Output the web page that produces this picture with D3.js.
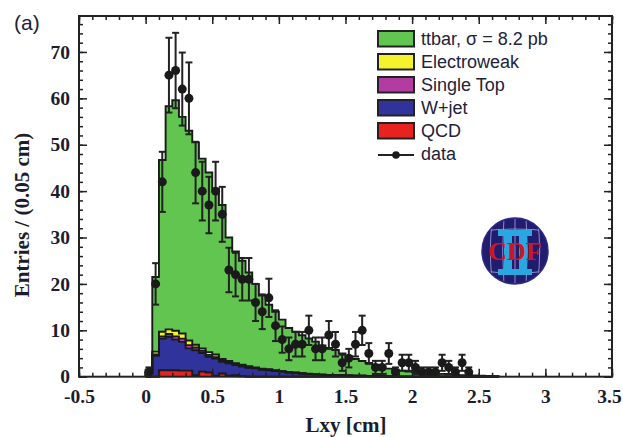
<!DOCTYPE html>
<html lang="en">
<head>
<meta charset="utf-8">
<title>Lxy distribution</title>
<script src="https://d3js.org/d3.v7.min.js"></script>
<style>
  body { margin: 0; background: #fff; }
  svg { display: block; }
  .tick text { font-family: "Liberation Serif", "DejaVu Serif", serif; font-weight: bold; font-size: 19.5px; fill: #1c1c2c; }
</style>
</head>
<body>
<svg id="chart" width="623" height="437"></svg>
<script>
// histogram bins: 0.05 cm wide, first bin starts at Lxy = 0
const binWidth = 0.05;
const binStart = 0.0;

// stacked MC components per bin (entries)
const qcd   = [0, 0, 1.4, 1.4, 1.4, 1.3, 1.3, 0.3, 1.1, 0.9, 0.2, 0.7, 0.2, 0.3, 0.1];
const wjet  = [0.8, 4.5, 6.8, 7.2, 6.6, 6.2, 4.8, 5.4, 4.0, 3.4, 3.7, 2.5, 2.7, 2.2, 2.1, 1.9, 1.8, 1.5, 1.4, 1.2,
               1.1, 0.9, 0.8, 0.7, 0.6, 0.5, 0.45, 0.4, 0.35, 0.3, 0.25, 0.2, 0.2, 0.15, 0.1, 0.1, 0.05];
const stop  = [0, 0.3, 0.5, 0.6, 0.7, 0.7, 0.7, 0.6, 0.5, 0.4, 0.3, 0.3, 0.2, 0.2, 0.2, 0.15, 0.1, 0.1, 0.1, 0.1,
               0.05, 0.05, 0.05];
const ewk   = [0.3, 0.6, 1.0, 1.0, 1.2, 1.1, 1.0, 0.6, 0.5, 0.6, 0.6, 0.3, 0.3, 0.2, 0.2, 0.2, 0.1, 0.1, 0.1, 0.1,
               0.05, 0.05, 0.05, 0.05, 0.05, 0.05];
const ttbar = [0.4, 16.1, 37.0, 48.1, 49.7, 46.7, 45.2, 43.6, 40.9, 38.7, 35.7, 33.2, 26.6, 24.1, 22.4, 20.2, 18.0, 15.8, 13.9, 12.6,
               11.1, 9.5, 8.8, 8.2, 7.6, 7.0, 6.3, 5.8, 5.4, 4.7, 4.1, 3.6, 3.2, 2.8, 2.5, 2.1, 1.7, 1.5, 1.3, 1.1,
               1.0, 0.9, 0.8, 0.7, 0.6, 0.5, 0.4, 0.35, 0.3, 0.25, 0.2, 0.15, 0.1];

// observed counts per bin
const data  = [1, 20, 42, 65, 66, 62, 60, 44, 40, 37, 40, 35, 23, 22, 21, 21, 16, 14, 17, 11,
               8, 6, 7, 7, 10, 6, 6, 9, 7, 3, 4, 7, 10, 5, 2, 2, 5, 1, 3, 3,
               2, 1, 1, 1, 3, 2, 1, 3, 1, 0, 0, 0, 0];

const xTicks = [-0.5, 0, 0.5, 1, 1.5, 2, 2.5, 3, 3.5];
const xTickLabels = ["-0.5", "0", "0.5", "1", "1.5", "2", "2.5", "3", "3.5"];
const yTicks = [0, 10, 20, 30, 40, 50, 60, 70];

const legendLabels = ["ttbar, \u03c3 = 8.2 pb", "Electroweak", "Single Top", "W+jet", "QCD", "data"];
const legendColors = ["#62c550", "#f4f22a", "#b23ca2", "#30339b", "#e8231f"];

const svg = d3.select("#chart");
const x = d3.scaleLinear().domain([-0.5, 3.5]).range([79, 612]);
const y = d3.scaleLinear().domain([0, 77.75]).range([376.7, 16]);

// build stacked table
const keys = ["qcd", "wjet", "stop", "ewk", "ttbar"];
const colors = {qcd: "#e8231f", wjet: "#30339b", stop: "#b23ca2", ewk: "#f4f22a", ttbar: "#62c550"};
const comps = {qcd, wjet, stop, ewk, ttbar};
const table = ttbar.map((_, i) => {
  const row = {lo: binStart + i * binWidth};
  keys.forEach(k => row[k] = comps[k][i] || 0);
  return row;
});
const stacked = d3.stack().keys(keys)(table);

function stepPoints(layer) {
  const pts = [];
  layer.forEach(s => {
    pts.push([s.data.lo, s[0], s[1]]);
    pts.push([s.data.lo + binWidth, s[0], s[1]]);
  });
  return pts;
}

const area = d3.area()
  .x(d => x(d[0]))
  .y0(d => y(d[1]))
  .y1(d => y(d[2]));

const outline = d3.line()
  .x(d => x(d[0]))
  .y(d => y(d[1]));

const plot = svg.append("g");

// fills first, then the outlines on top
stacked.forEach(layer => {
  plot.append("path")
    .attr("d", area(stepPoints(layer)))
    .attr("fill", colors[layer.key])
    .attr("stroke", "none");
});
stacked.forEach(layer => {
  const pts = stepPoints(layer).map(p => [p[0], p[2]]);
  pts.unshift([binStart, 0]);
  pts.push([binStart + table.length * binWidth, 0]);
  plot.append("path")
    .attr("d", outline(pts))
    .attr("fill", "none")
    .attr("stroke", "#1a1a1a")
    .attr("stroke-width", 1.9);
});

// data points with poisson errors
const pts = data.map((d, i) => ({c: binStart + (i + 0.5) * binWidth, v: d})).filter(d => d.v > 0);
const dp = plot.append("g");
dp.selectAll("line.err").data(pts).enter().append("line")
  .attr("x1", d => x(d.c)).attr("x2", d => x(d.c))
  .attr("y1", d => y(d.v - Math.sqrt(d.v))).attr("y2", d => y(d.v + Math.sqrt(d.v)))
  .attr("stroke", "#222").attr("stroke-width", 2);
["lo", "hi"].forEach(side => {
  dp.selectAll("line.cap" + side).data(pts).enter().append("line")
    .attr("x1", d => x(d.c) - 3.5).attr("x2", d => x(d.c) + 3.5)
    .attr("y1", d => y(side == "lo" ? d.v - Math.sqrt(d.v) : d.v + Math.sqrt(d.v)))
    .attr("y2", d => y(side == "lo" ? d.v - Math.sqrt(d.v) : d.v + Math.sqrt(d.v)))
    .attr("stroke", "#222").attr("stroke-width", 2);
});
dp.selectAll("circle").data(pts).enter().append("circle")
  .attr("cx", d => x(d.c)).attr("cy", d => y(d.v))
  .attr("r", 4.5).attr("fill", "#1a1a1a");

// axes (ticks inside, all four sides)
const xMinor = d3.range(-5, 36).map(v => v / 10);
const yMinor = d3.range(0, 78, 2);

function addAxis(axis, tx, ty, labels) {
  const g = svg.append("g").attr("transform", `translate(${tx},${ty})`).call(axis);
  g.select(".domain").remove();
  g.selectAll(".tick line").attr("stroke", "#222").attr("stroke-width", 1.5);
  if (!labels) g.selectAll(".tick text").remove();
  return g;
}
addAxis(d3.axisBottom(x).tickValues(xMinor).tickSize(-4).tickFormat(""), 0, 376.7, false);
addAxis(d3.axisTop(x).tickValues(xMinor).tickSize(-4).tickFormat(""), 0, 16, false);
const xLab = addAxis(d3.axisBottom(x).tickValues(xTicks).tickSize(-8).tickPadding(12)
  .tickFormat((d, i) => xTickLabels[i]), 0, 376.7, true);
xLab.selectAll(".tick text").filter(d => d === 3.5).attr("dx", "-3");
addAxis(d3.axisTop(x).tickValues(xTicks).tickSize(-8).tickFormat(""), 0, 16, false);
addAxis(d3.axisLeft(y).tickValues(yMinor).tickSize(-4).tickFormat(""), 79, 0, false);
addAxis(d3.axisRight(y).tickValues(yMinor).tickSize(-4).tickFormat(""), 612, 0, false);
addAxis(d3.axisLeft(y).tickValues(yTicks).tickSize(-8).tickPadding(9), 79, 0, true);
addAxis(d3.axisRight(y).tickValues(yTicks).tickSize(-8).tickFormat(""), 612, 0, false);

svg.append("rect")
  .attr("x", 79).attr("y", 16).attr("width", 533).attr("height", 360.7)
  .attr("fill", "none").attr("stroke", "#222").attr("stroke-width", 2);

// axis titles
svg.append("text")
  .attr("x", 346).attr("y", 432)
  .attr("text-anchor", "middle")
  .style("font-family", "Liberation Serif, serif").style("font-weight", "bold").style("font-size", "21px")
  .attr("fill", "#1c1c2c")
  .text("Lxy [cm]");
svg.append("text")
  .attr("transform", "translate(29,215) rotate(-90)")
  .attr("text-anchor", "middle")
  .style("font-family", "Liberation Serif, serif").style("font-weight", "bold").style("font-size", "21px")
  .attr("fill", "#1c1c2c")
  .text("Entries / (0.05 cm)");
svg.append("text")
  .attr("x", 14).attr("y", 30)
  .style("font-family", "Liberation Sans, Arial, sans-serif").style("font-size", "21px")
  .attr("fill", "#20203a")
  .text("(a)");

// legend
const leg = svg.append("g").attr("transform", "translate(378,31)");
legendColors.forEach((c, i) => {
  leg.append("rect")
    .attr("x", 0).attr("y", i * 23).attr("width", 36).attr("height", 15.5)
    .attr("fill", c).attr("stroke", "#222").attr("stroke-width", 2);
});
leg.append("line").attr("x1", 0).attr("x2", 36).attr("y1", 124).attr("y2", 124)
  .attr("stroke", "#222").attr("stroke-width", 2);
leg.append("circle").attr("cx", 18).attr("cy", 124).attr("r", 3.8).attr("fill", "#1a1a1a");
leg.selectAll("text.lbl").data(legendLabels).enter().append("text")
  .attr("x", 43).attr("y", (d, i) => i * 23 + 14)
  .style("font-family", "Liberation Sans, Arial, sans-serif").style("font-size", "18px")
  .attr("fill", "#22223a")
  .text(d => d);

// CDF logo
const logo = svg.append("g").attr("transform", "translate(515,251)");
logo.append("clipPath").attr("id", "logoClip").append("circle").attr("r", 32);
logo.append("circle").attr("r", 33).attr("fill", "#211c6e").attr("stroke", "#2c2a8a").attr("stroke-width", 1.5);
const grid = logo.append("g").attr("clip-path", "url(#logoClip)")
  .attr("stroke", "#9a9ad4").attr("stroke-width", 0.9).attr("fill", "none");
[-22, -11, 0, 11, 22].forEach(v => {
  grid.append("path").attr("d", `M${v},-34 Q${v * 1.25},0 ${v},34`);
});
[-20, 20].forEach(v => {
  grid.append("path").attr("d", `M-34,${v} Q0,${v * 1.2} 34,${v}`);
});
const two = logo.append("g").attr("fill", "#2aa7df");
two.append("rect").attr("x", -17).attr("y", -21).attr("width", 34).attr("height", 6);
two.append("rect").attr("x", -17).attr("y", 18).attr("width", 34).attr("height", 6);
two.append("rect").attr("x", -11).attr("y", -16).attr("width", 8).attr("height", 35);
two.append("rect").attr("x", 4).attr("y", -16).attr("width", 8).attr("height", 35);
logo.append("text")
  .attr("x", 0).attr("y", 9)
  .attr("text-anchor", "middle")
  .style("font-family", "Liberation Serif, serif").style("font-weight", "bold").style("font-size", "26px")
  .attr("fill", "#cc1626")
  .text("CDF");
</script>
</body>
</html>
